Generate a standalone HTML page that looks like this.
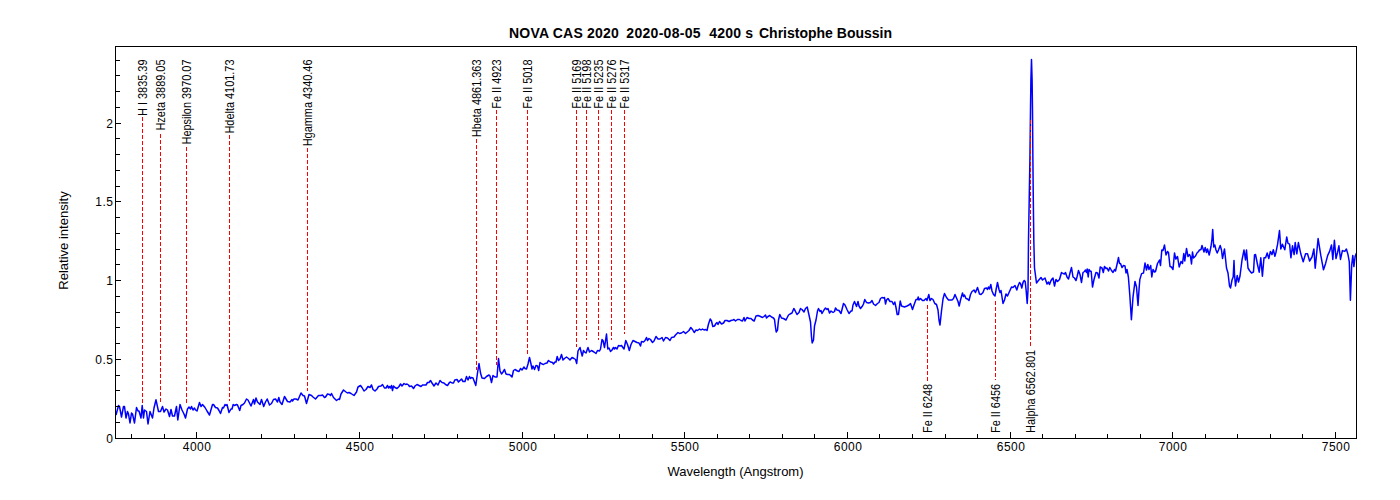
<!DOCTYPE html>
<html><head><meta charset="utf-8"><style>
html,body{margin:0;padding:0;background:#fff;width:1400px;height:500px;overflow:hidden}
svg{display:block}
.t{font-family:"Liberation Sans",sans-serif;font-size:12px;fill:#000}
.tk{font-family:"Liberation Sans",sans-serif;font-size:12px;fill:#000;letter-spacing:0.45px}
.t13{font-family:"Liberation Sans",sans-serif;font-size:13px;fill:#000}
.title{font-family:"Liberation Sans",sans-serif;font-size:14px;font-weight:bold;fill:#000}
</style></head><body>
<svg width="1400" height="500" viewBox="0 0 1400 500"><path d="M116.0,415.0 L118.5,405.5 L119.5,406.5 L121.5,417.0 L123.5,406.5 L124.5,406.5 L126.0,418.0 L127.5,411.5 L128.5,414.0 L130.0,423.0 L131.5,413.0 L132.5,414.0 L134.5,423.0 L136.5,407.5 L138.0,411.0 L139.0,411.0 L141.0,418.0 L142.2,405.5 L143.5,418.0 L144.5,410.0 L146.5,411.5 L148.0,424.0 L150.0,411.5 L152.5,418.0 L154.0,408.0 L156.0,399.8 L158.5,411.5 L160.5,411.5 L162.5,406.5 L164.0,412.0 L166.0,409.0 L167.5,410.0 L169.5,416.5 L171.0,409.5 L172.5,416.0 L174.5,416.0 L176.5,406.5 L177.8,420.0 L180.0,404.5 L182.0,410.0 L184.0,414.0 L185.5,418.0 L187.5,409.0 L189.0,407.0 L190.5,409.0 L191.5,406.5 L193.0,410.0 L194.5,408.0 L195.5,410.0 L197.0,411.0 L199.5,402.5 L201.0,406.5 L202.5,404.5 L205.0,407.5 L207.0,411.0 L209.5,415.0 L212.5,404.5 L213.5,404.5 L215.5,407.5 L217.5,408.0 L219.0,410.5 L220.5,413.5 L222.5,407.5 L223.5,408.0 L225.0,404.5 L226.0,405.5 L227.0,404.5 L229.0,412.5 L231.0,409.0 L232.0,409.0 L233.2,404.5 L234.5,405.5 L236.5,404.5 L237.5,405.0 L239.7,410.5 L241.0,405.5 L243.0,404.5 L244.5,403.0 L246.5,399.0 L248.0,400.0 L251.0,406.0 L253.5,399.5 L254.5,404.0 L256.0,398.0 L257.5,402.0 L260.0,404.5 L261.5,399.5 L263.7,406.5 L265.5,402.0 L267.2,399.0 L269.5,405.0 L271.5,403.5 L273.5,399.5 L275.5,399.0 L277.5,402.0 L278.8,397.5 L280.0,402.0 L282.0,404.5 L284.5,396.5 L287.5,401.5 L290.0,402.0 L292.0,399.5 L292.5,401.0 L294.0,399.0 L296.0,399.0 L298.0,400.0 L301.0,393.0 L303.0,395.5 L304.5,396.0 L306.5,403.5 L309.0,394.5 L311.5,395.5 L313.0,397.0 L315.5,399.0 L318.5,395.5 L321.0,395.5 L322.5,395.0 L324.5,397.5 L325.5,397.0 L327.5,394.0 L329.5,394.5 L330.5,395.5 L331.5,393.5 L333.5,397.5 L336.5,400.5 L338.5,399.0 L339.5,399.5 L341.0,394.0 L343.5,390.0 L346.0,392.0 L347.5,393.0 L349.0,392.5 L351.0,393.5 L354.0,395.5 L356.5,392.0 L358.0,387.0 L360.5,385.5 L362.0,387.5 L364.0,391.0 L366.0,389.5 L368.0,386.5 L370.0,387.5 L371.5,385.0 L373.0,389.5 L375.0,391.0 L377.0,389.0 L378.5,386.5 L381.0,386.0 L382.5,384.5 L384.5,388.0 L386.0,388.0 L387.5,385.5 L388.5,388.0 L389.5,386.5 L390.5,388.0 L391.5,385.5 L392.5,390.5 L393.5,386.0 L395.0,387.5 L397.0,388.5 L399.0,386.5 L400.5,384.0 L402.0,386.0 L404.0,383.5 L405.5,384.5 L407.0,384.0 L408.5,385.0 L409.5,386.5 L411.5,386.0 L413.5,388.5 L415.0,386.0 L417.0,384.5 L419.0,385.5 L421.0,386.5 L422.5,385.0 L424.5,385.0 L426.0,385.0 L427.5,382.5 L429.0,382.5 L430.5,380.5 L432.0,383.0 L434.0,386.0 L436.0,383.0 L438.0,385.0 L440.0,380.5 L442.0,382.5 L444.0,383.0 L445.5,384.5 L447.5,385.5 L449.5,382.5 L450.5,382.0 L452.0,383.0 L453.5,383.0 L454.8,380.0 L457.0,379.5 L458.5,382.0 L460.0,380.5 L461.5,379.0 L463.0,381.5 L465.0,381.5 L466.5,376.5 L468.0,380.0 L469.5,376.5 L470.5,378.5 L471.5,377.5 L473.0,378.0 L474.5,382.0 L475.8,385.5 L477.5,373.0 L479.0,363.5 L480.5,373.0 L482.0,378.0 L484.5,378.5 L486.5,376.5 L489.0,375.0 L490.0,376.0 L491.5,382.5 L493.0,375.5 L495.0,377.0 L497.0,377.0 L498.5,358.5 L500.0,371.0 L501.5,374.0 L503.0,372.0 L504.5,369.5 L506.0,374.0 L507.5,374.5 L509.5,374.5 L512.0,377.0 L513.5,370.5 L515.0,369.5 L517.5,371.0 L519.0,371.5 L520.5,368.5 L522.0,370.0 L524.0,367.0 L525.0,368.5 L526.5,369.0 L528.0,364.0 L529.5,357.5 L531.0,364.0 L532.0,369.0 L533.0,366.0 L534.5,369.5 L536.0,365.5 L537.5,366.0 L538.7,370.5 L540.0,362.5 L542.0,364.0 L543.5,364.5 L545.0,363.5 L547.0,363.0 L548.5,360.5 L550.5,362.0 L552.5,362.5 L553.5,364.0 L555.0,362.0 L556.0,362.0 L557.2,356.5 L558.5,360.5 L560.0,359.0 L561.5,354.5 L563.0,360.0 L564.5,358.5 L566.5,357.0 L568.5,358.5 L570.0,360.0 L572.0,357.5 L574.0,358.5 L575.5,359.5 L576.7,363.5 L578.0,351.0 L580.0,347.5 L581.0,351.5 L582.2,356.0 L583.5,350.5 L584.5,352.0 L586.0,353.0 L588.0,347.5 L589.5,352.0 L591.5,350.5 L594.0,352.0 L596.0,353.5 L597.5,350.5 L599.5,351.0 L600.5,349.0 L602.0,339.5 L603.0,340.5 L604.5,347.5 L606.5,334.0 L607.8,349.0 L609.0,348.0 L610.5,351.5 L612.0,350.0 L613.5,347.5 L614.5,349.0 L615.5,347.5 L617.0,349.0 L618.5,345.5 L620.0,346.0 L621.5,345.5 L622.5,347.0 L624.0,349.0 L625.8,340.5 L627.5,344.5 L629.3,350.5 L631.0,344.5 L633.0,340.5 L635.0,341.5 L637.0,342.5 L639.0,343.0 L640.5,346.0 L641.5,341.5 L643.5,342.0 L645.0,340.5 L646.5,337.5 L647.5,340.5 L649.0,338.5 L650.5,339.5 L652.5,342.5 L654.0,341.0 L656.0,336.5 L658.0,339.0 L660.0,339.0 L662.0,337.5 L663.5,341.0 L665.5,337.5 L667.5,338.0 L670.0,340.5 L671.5,337.5 L674.0,337.0 L675.5,335.0 L678.0,332.5 L679.5,333.5 L681.5,333.0 L683.5,331.5 L685.5,333.5 L689.0,330.5 L690.8,327.5 L692.5,329.5 L694.2,332.5 L696.0,330.0 L697.5,330.5 L699.5,329.0 L701.0,330.0 L702.5,329.0 L704.0,330.0 L705.5,329.5 L707.0,330.5 L708.5,324.0 L710.2,319.0 L711.5,321.0 L712.8,326.5 L714.5,326.0 L716.0,323.5 L717.0,322.5 L718.0,324.5 L719.5,321.5 L721.5,324.0 L723.5,323.0 L725.0,320.5 L727.0,320.5 L729.0,321.5 L731.0,320.5 L733.0,320.0 L734.0,319.5 L735.5,321.0 L737.5,319.5 L739.5,319.5 L741.0,320.5 L742.5,321.0 L744.0,317.5 L745.0,321.0 L747.0,317.5 L749.0,318.5 L751.0,318.5 L752.5,320.0 L754.2,321.0 L756.0,316.0 L758.0,315.5 L760.5,316.5 L762.5,317.5 L764.0,316.5 L765.5,315.0 L766.5,318.0 L768.0,316.5 L769.8,315.5 L771.5,317.0 L773.5,318.0 L774.5,319.5 L775.3,326.0 L776.2,332.0 L777.5,330.0 L778.5,320.0 L779.8,314.5 L781.5,318.0 L783.5,318.5 L786.0,320.0 L788.5,315.0 L790.0,314.0 L792.0,313.0 L793.8,308.5 L795.0,310.5 L797.0,314.5 L799.0,312.5 L800.5,308.5 L802.0,309.5 L804.0,312.0 L805.5,308.5 L807.2,307.0 L809.0,315.0 L810.5,322.0 L811.5,337.0 L812.2,343.0 L813.5,340.0 L814.5,326.0 L816.0,320.0 L817.5,311.0 L818.5,308.5 L820.0,311.5 L821.0,310.5 L822.0,313.5 L824.0,310.0 L825.5,308.0 L827.0,309.5 L828.0,308.5 L829.5,313.0 L831.0,311.0 L833.0,312.5 L834.5,311.5 L835.5,308.0 L837.0,310.0 L839.0,310.5 L841.0,313.5 L842.5,307.5 L843.5,303.5 L845.0,305.0 L847.0,309.5 L849.0,313.5 L851.0,311.0 L852.0,311.0 L853.0,305.0 L854.5,301.5 L856.5,306.5 L858.0,301.5 L859.0,306.0 L860.5,308.5 L862.5,306.0 L863.5,304.0 L864.8,299.5 L866.5,302.5 L868.5,303.0 L870.5,302.5 L872.0,300.5 L873.5,304.0 L875.5,305.5 L877.5,303.5 L879.0,302.5 L880.5,298.5 L882.0,297.5 L883.5,298.0 L884.5,297.5 L885.5,304.0 L886.5,300.0 L888.0,298.5 L890.0,301.5 L892.0,301.5 L893.5,304.5 L894.8,302.0 L896.0,307.5 L897.2,314.5 L898.5,314.5 L900.2,301.0 L901.5,306.0 L904.5,307.0 L907.0,306.0 L909.0,305.0 L910.5,303.5 L912.5,309.5 L914.0,305.0 L916.0,299.5 L917.5,299.5 L918.2,297.0 L919.0,300.0 L920.5,298.5 L922.5,300.5 L924.0,300.5 L926.0,298.5 L927.0,300.5 L928.8,294.5 L930.0,300.5 L931.5,298.5 L933.0,299.5 L934.8,303.5 L936.5,304.5 L938.0,310.0 L939.0,320.0 L940.0,325.0 L941.5,311.0 L943.0,299.0 L944.5,293.5 L946.5,297.5 L948.5,300.0 L950.5,300.0 L952.0,300.0 L953.5,298.5 L955.0,294.5 L956.5,298.0 L958.0,301.5 L959.2,306.0 L960.5,300.0 L962.5,293.0 L963.5,296.5 L964.5,295.0 L966.0,298.5 L967.5,299.0 L969.0,300.5 L970.5,294.5 L972.0,291.5 L974.0,290.0 L975.5,292.5 L977.5,287.5 L979.5,294.0 L981.0,294.5 L983.0,292.5 L984.5,288.5 L986.5,288.0 L987.5,289.5 L988.5,287.0 L989.5,289.0 L990.8,284.5 L992.0,291.0 L993.5,294.5 L995.0,296.0 L996.2,289.0 L997.5,282.5 L999.0,289.5 L1000.0,292.5 L1001.0,290.5 L1002.0,297.0 L1003.0,303.5 L1004.5,300.0 L1006.0,294.0 L1007.5,296.0 L1009.5,291.5 L1011.5,287.0 L1013.0,287.5 L1015.0,285.5 L1016.8,290.0 L1018.0,286.0 L1019.5,282.5 L1020.5,283.5 L1021.8,288.0 L1023.0,282.5 L1024.2,280.5 L1025.2,281.5 L1026.2,291.0 L1027.2,303.5 L1028.0,290.0 L1028.5,240.0 L1029.2,200.0 L1029.9,160.0 L1030.5,110.0 L1030.9,80.0 L1031.5,59.5 L1032.1,80.0 L1032.5,110.0 L1032.9,160.0 L1033.3,200.0 L1033.8,240.0 L1034.5,268.0 L1036.5,283.0 L1038.0,281.0 L1041.0,277.5 L1042.5,280.0 L1045.0,278.0 L1047.0,284.0 L1048.5,282.0 L1049.5,284.5 L1050.8,281.0 L1052.0,279.0 L1053.0,278.0 L1054.5,286.0 L1056.0,279.5 L1057.5,281.5 L1059.5,279.5 L1061.5,272.5 L1063.0,273.5 L1064.5,274.0 L1065.5,272.5 L1067.0,277.0 L1068.5,279.0 L1070.0,273.0 L1071.5,267.5 L1073.0,277.0 L1074.5,278.0 L1076.0,280.5 L1077.0,277.0 L1078.5,270.5 L1080.0,274.5 L1081.5,282.5 L1083.0,272.5 L1084.5,271.5 L1085.5,270.0 L1086.5,272.5 L1087.2,269.0 L1088.2,277.0 L1089.0,269.5 L1090.0,271.0 L1091.2,271.5 L1092.5,287.0 L1094.0,279.5 L1096.0,272.5 L1097.5,273.0 L1099.0,278.0 L1100.2,267.0 L1102.0,268.0 L1103.3,272.5 L1104.5,266.5 L1106.0,268.5 L1107.0,268.0 L1108.5,271.0 L1109.8,267.5 L1111.5,270.5 L1113.0,272.5 L1114.5,269.5 L1115.5,271.0 L1117.0,264.5 L1118.5,257.5 L1119.5,263.5 L1120.5,263.5 L1122.0,267.5 L1123.5,265.5 L1125.0,266.0 L1126.0,273.0 L1127.0,269.5 L1128.4,277.2 L1129.8,295.0 L1131.4,319.8 L1133.0,297.0 L1135.0,281.4 L1136.5,287.0 L1138.0,305.4 L1139.0,290.0 L1139.8,279.6 L1141.6,273.6 L1143.5,273.0 L1145.0,263.0 L1146.5,270.0 L1147.8,264.5 L1149.0,269.5 L1150.7,265.5 L1151.8,277.0 L1153.0,269.5 L1154.5,272.0 L1155.5,271.5 L1157.5,263.5 L1159.5,260.0 L1160.5,265.5 L1161.8,250.0 L1163.0,250.5 L1164.5,245.0 L1166.0,255.0 L1167.5,251.5 L1168.5,252.5 L1170.0,266.5 L1171.5,267.0 L1173.0,269.5 L1174.5,253.0 L1175.8,259.0 L1177.5,256.5 L1179.2,267.0 L1181.0,261.5 L1182.5,263.5 L1183.8,253.5 L1184.8,261.0 L1186.5,248.5 L1188.0,256.5 L1189.5,254.5 L1190.5,256.5 L1191.5,264.0 L1192.5,252.0 L1193.5,258.0 L1195.5,256.0 L1197.0,253.0 L1198.5,251.5 L1199.5,250.0 L1201.0,249.5 L1202.0,245.5 L1204.0,252.0 L1205.2,247.5 L1206.5,252.5 L1207.5,249.0 L1209.2,255.0 L1211.0,246.5 L1212.0,239.0 L1212.7,229.5 L1213.7,247.0 L1214.8,245.0 L1216.0,250.0 L1217.2,253.0 L1218.5,250.0 L1220.2,245.5 L1221.5,250.0 L1222.5,258.5 L1224.5,249.0 L1226.5,268.0 L1228.0,273.0 L1229.5,286.0 L1230.5,288.0 L1232.0,280.0 L1233.2,277.0 L1234.0,260.5 L1234.5,274.0 L1235.5,286.0 L1237.2,275.5 L1238.5,282.0 L1240.0,276.0 L1242.0,260.0 L1244.0,250.0 L1245.5,260.0 L1246.5,250.0 L1248.0,268.0 L1249.5,270.5 L1251.5,273.0 L1253.5,272.0 L1254.5,255.0 L1255.5,254.5 L1257.5,264.5 L1259.2,272.2 L1260.8,257.8 L1262.4,276.2 L1264.0,257.8 L1265.6,257.8 L1267.2,253.0 L1268.8,258.6 L1270.4,251.4 L1272.0,254.6 L1273.3,249.8 L1274.9,256.2 L1276.0,252.2 L1277.6,244.2 L1279.5,230.6 L1280.8,249.0 L1282.4,244.2 L1284.8,249.8 L1286.7,237.0 L1288.0,243.4 L1289.6,244.2 L1290.9,257.8 L1292.5,245.8 L1294.1,254.6 L1295.2,242.6 L1296.8,253.8 L1298.4,242.6 L1300.8,253.8 L1303.2,261.8 L1305.6,253.8 L1307.5,253.8 L1309.6,261.0 L1312.0,257.0 L1313.9,249.0 L1315.2,268.2 L1318.1,238.6 L1320.8,255.4 L1323.5,269.8 L1325.6,263.4 L1327.7,255.4 L1329.6,251.4 L1331.5,245.0 L1332.8,259.4 L1334.4,240.2 L1336.0,258.6 L1337.6,252.2 L1338.9,245.8 L1340.5,259.4 L1342.4,250.6 L1344.8,251.4 L1346.4,249.0 L1348.0,254.6 L1349.3,261.8 L1350.4,300.2 L1351.7,265.0 L1352.8,255.4 L1353.9,266.6 L1355.2,256.2 L1356.5,253.0" fill="none" stroke="#0000ff" stroke-width="1.5" stroke-linejoin="round"/><g stroke="#ff0000" stroke-width="1" stroke-dasharray="4 2" shape-rendering="crispEdges"><line x1="142.5" y1="117" x2="142.5" y2="402.5"/><line x1="160.5" y1="134" x2="160.5" y2="402.5"/><line x1="186.5" y1="147" x2="186.5" y2="403.5"/><line x1="229.5" y1="135" x2="229.5" y2="400.5"/><line x1="307.5" y1="148" x2="307.5" y2="390.5"/><line x1="476.5" y1="139" x2="476.5" y2="370.2"/><line x1="496.5" y1="110" x2="496.5" y2="365.4"/><line x1="527.5" y1="110" x2="527.5" y2="354.6"/><line x1="576.5" y1="110" x2="576.5" y2="347.4"/><line x1="586.5" y1="110" x2="586.5" y2="339.6"/><line x1="598.5" y1="110" x2="598.5" y2="340.2"/><line x1="611.5" y1="110" x2="611.5" y2="339.6"/><line x1="624.5" y1="110" x2="624.5" y2="333.6"/><line x1="927.5" y1="305" x2="927.5" y2="380.5"/><line x1="995.5" y1="301" x2="995.5" y2="380.4"/><line x1="1030.5" y1="119.5" x2="1030.5" y2="345.6"/></g><g shape-rendering="crispEdges"><rect x="115.5" y="46.5" width="1241" height="392" fill="none" stroke="#000" stroke-width="1"/><line x1="116" y1="438.5" x2="121" y2="438.5" stroke="#000" stroke-width="1"/><line x1="116" y1="422.5" x2="120" y2="422.5" stroke="#000" stroke-width="1"/><line x1="116" y1="406.5" x2="120" y2="406.5" stroke="#000" stroke-width="1"/><line x1="116" y1="390.5" x2="120" y2="390.5" stroke="#000" stroke-width="1"/><line x1="116" y1="375.5" x2="120" y2="375.5" stroke="#000" stroke-width="1"/><line x1="116" y1="359.5" x2="121" y2="359.5" stroke="#000" stroke-width="1"/><line x1="116" y1="343.5" x2="120" y2="343.5" stroke="#000" stroke-width="1"/><line x1="116" y1="327.5" x2="120" y2="327.5" stroke="#000" stroke-width="1"/><line x1="116" y1="312.5" x2="120" y2="312.5" stroke="#000" stroke-width="1"/><line x1="116" y1="296.5" x2="120" y2="296.5" stroke="#000" stroke-width="1"/><line x1="116" y1="280.5" x2="121" y2="280.5" stroke="#000" stroke-width="1"/><line x1="116" y1="264.5" x2="120" y2="264.5" stroke="#000" stroke-width="1"/><line x1="116" y1="249.5" x2="120" y2="249.5" stroke="#000" stroke-width="1"/><line x1="116" y1="233.5" x2="120" y2="233.5" stroke="#000" stroke-width="1"/><line x1="116" y1="217.5" x2="120" y2="217.5" stroke="#000" stroke-width="1"/><line x1="116" y1="201.5" x2="121" y2="201.5" stroke="#000" stroke-width="1"/><line x1="116" y1="186.5" x2="120" y2="186.5" stroke="#000" stroke-width="1"/><line x1="116" y1="170.5" x2="120" y2="170.5" stroke="#000" stroke-width="1"/><line x1="116" y1="154.5" x2="120" y2="154.5" stroke="#000" stroke-width="1"/><line x1="116" y1="138.5" x2="120" y2="138.5" stroke="#000" stroke-width="1"/><line x1="116" y1="123.5" x2="121" y2="123.5" stroke="#000" stroke-width="1"/><line x1="116" y1="107.5" x2="120" y2="107.5" stroke="#000" stroke-width="1"/><line x1="116" y1="91.5" x2="120" y2="91.5" stroke="#000" stroke-width="1"/><line x1="116" y1="75.5" x2="120" y2="75.5" stroke="#000" stroke-width="1"/><line x1="116" y1="60.5" x2="120" y2="60.5" stroke="#000" stroke-width="1"/><line x1="131.5" y1="438" x2="131.5" y2="434" stroke="#000" stroke-width="1"/><line x1="164.5" y1="438" x2="164.5" y2="434" stroke="#000" stroke-width="1"/><line x1="196.5" y1="438" x2="196.5" y2="432" stroke="#000" stroke-width="1"/><line x1="229.5" y1="438" x2="229.5" y2="434" stroke="#000" stroke-width="1"/><line x1="261.5" y1="438" x2="261.5" y2="434" stroke="#000" stroke-width="1"/><line x1="294.5" y1="438" x2="294.5" y2="434" stroke="#000" stroke-width="1"/><line x1="326.5" y1="438" x2="326.5" y2="434" stroke="#000" stroke-width="1"/><line x1="359.5" y1="438" x2="359.5" y2="432" stroke="#000" stroke-width="1"/><line x1="392.5" y1="438" x2="392.5" y2="434" stroke="#000" stroke-width="1"/><line x1="424.5" y1="438" x2="424.5" y2="434" stroke="#000" stroke-width="1"/><line x1="457.5" y1="438" x2="457.5" y2="434" stroke="#000" stroke-width="1"/><line x1="489.5" y1="438" x2="489.5" y2="434" stroke="#000" stroke-width="1"/><line x1="522.5" y1="438" x2="522.5" y2="432" stroke="#000" stroke-width="1"/><line x1="554.5" y1="438" x2="554.5" y2="434" stroke="#000" stroke-width="1"/><line x1="587.5" y1="438" x2="587.5" y2="434" stroke="#000" stroke-width="1"/><line x1="619.5" y1="438" x2="619.5" y2="434" stroke="#000" stroke-width="1"/><line x1="652.5" y1="438" x2="652.5" y2="434" stroke="#000" stroke-width="1"/><line x1="684.5" y1="438" x2="684.5" y2="432" stroke="#000" stroke-width="1"/><line x1="717.5" y1="438" x2="717.5" y2="434" stroke="#000" stroke-width="1"/><line x1="749.5" y1="438" x2="749.5" y2="434" stroke="#000" stroke-width="1"/><line x1="782.5" y1="438" x2="782.5" y2="434" stroke="#000" stroke-width="1"/><line x1="814.5" y1="438" x2="814.5" y2="434" stroke="#000" stroke-width="1"/><line x1="847.5" y1="438" x2="847.5" y2="432" stroke="#000" stroke-width="1"/><line x1="879.5" y1="438" x2="879.5" y2="434" stroke="#000" stroke-width="1"/><line x1="912.5" y1="438" x2="912.5" y2="434" stroke="#000" stroke-width="1"/><line x1="945.5" y1="438" x2="945.5" y2="434" stroke="#000" stroke-width="1"/><line x1="977.5" y1="438" x2="977.5" y2="434" stroke="#000" stroke-width="1"/><line x1="1010.5" y1="438" x2="1010.5" y2="432" stroke="#000" stroke-width="1"/><line x1="1042.5" y1="438" x2="1042.5" y2="434" stroke="#000" stroke-width="1"/><line x1="1075.5" y1="438" x2="1075.5" y2="434" stroke="#000" stroke-width="1"/><line x1="1107.5" y1="438" x2="1107.5" y2="434" stroke="#000" stroke-width="1"/><line x1="1140.5" y1="438" x2="1140.5" y2="434" stroke="#000" stroke-width="1"/><line x1="1172.5" y1="438" x2="1172.5" y2="432" stroke="#000" stroke-width="1"/><line x1="1205.5" y1="438" x2="1205.5" y2="434" stroke="#000" stroke-width="1"/><line x1="1237.5" y1="438" x2="1237.5" y2="434" stroke="#000" stroke-width="1"/><line x1="1270.5" y1="438" x2="1270.5" y2="434" stroke="#000" stroke-width="1"/><line x1="1302.5" y1="438" x2="1302.5" y2="434" stroke="#000" stroke-width="1"/><line x1="1335.5" y1="438" x2="1335.5" y2="432" stroke="#000" stroke-width="1"/></g><g font-family="Liberation Sans, sans-serif"><text x="509" y="37.5" class="title" letter-spacing="0.2">NOVA CAS 2020</text><text x="626.3" y="37.5" class="title" letter-spacing="0.3">2020-08-05</text><text x="709.3" y="37.5" class="title" letter-spacing="0.2">4200 s</text><text x="759" y="37.5" class="title" letter-spacing="0">Christophe Boussin</text><text x="113.4" y="442.5" text-anchor="end" class="tk">0</text><text x="113.4" y="363.5" text-anchor="end" class="tk">0.5</text><text x="113.4" y="284.5" text-anchor="end" class="tk">1</text><text x="113.4" y="205.5" text-anchor="end" class="tk">1.5</text><text x="113.4" y="127.5" text-anchor="end" class="tk">2</text><text x="197.1" y="451" text-anchor="middle" class="tk">4000</text><text x="360.1" y="451" text-anchor="middle" class="tk">4500</text><text x="523.1" y="451" text-anchor="middle" class="tk">5000</text><text x="685.1" y="451" text-anchor="middle" class="tk">5500</text><text x="848.1" y="451" text-anchor="middle" class="tk">6000</text><text x="1011.1" y="451" text-anchor="middle" class="tk">6500</text><text x="1173.1" y="451" text-anchor="middle" class="tk">7000</text><text x="1336.1" y="451" text-anchor="middle" class="tk">7500</text><text x="735.5" y="476" text-anchor="middle" class="t13">Wavelength (Angstrom)</text><text transform="translate(67.5,240.5) rotate(-90)" text-anchor="middle" class="t13">Relative intensity</text><text transform="translate(146.5,59.5) rotate(-90) scale(0.91,1)" text-anchor="end" class="t">H I 3835.39</text><text transform="translate(164.5,59.5) rotate(-90) scale(0.91,1)" text-anchor="end" class="t">Hzeta 3889.05</text><text transform="translate(190.5,59.5) rotate(-90) scale(0.91,1)" text-anchor="end" class="t">Hepsilon 3970.07</text><text transform="translate(233.5,59.5) rotate(-90) scale(0.91,1)" text-anchor="end" class="t">Hdelta 4101.73</text><text transform="translate(311.5,59.5) rotate(-90) scale(0.91,1)" text-anchor="end" class="t">Hgamma 4340.46</text><text transform="translate(480.5,59.5) rotate(-90) scale(0.91,1)" text-anchor="end" class="t">Hbeta 4861.363</text><text transform="translate(500.5,59.5) rotate(-90) scale(0.91,1)" text-anchor="end" class="t">Fe II 4923</text><text transform="translate(531.5,59.5) rotate(-90) scale(0.91,1)" text-anchor="end" class="t">Fe II 5018</text><text transform="translate(580.5,59.5) rotate(-90) scale(0.91,1)" text-anchor="end" class="t">Fe II 5169</text><text transform="translate(590.5,59.5) rotate(-90) scale(0.91,1)" text-anchor="end" class="t">Fe II 5198</text><text transform="translate(602.5,59.5) rotate(-90) scale(0.91,1)" text-anchor="end" class="t">Fe II 5235</text><text transform="translate(615.5,59.5) rotate(-90) scale(0.91,1)" text-anchor="end" class="t">Fe II 5276</text><text transform="translate(628.5,59.5) rotate(-90) scale(0.91,1)" text-anchor="end" class="t">Fe II 5317</text><text transform="translate(931.5,433) rotate(-90) scale(0.91,1)" text-anchor="start" class="t">Fe II 6248</text><text transform="translate(999.5,433) rotate(-90) scale(0.91,1)" text-anchor="start" class="t">Fe II 6456</text><text transform="translate(1034.5,433) rotate(-90) scale(0.91,1)" text-anchor="start" class="t">Halpha 6562.801</text></g></svg>
</body></html>
